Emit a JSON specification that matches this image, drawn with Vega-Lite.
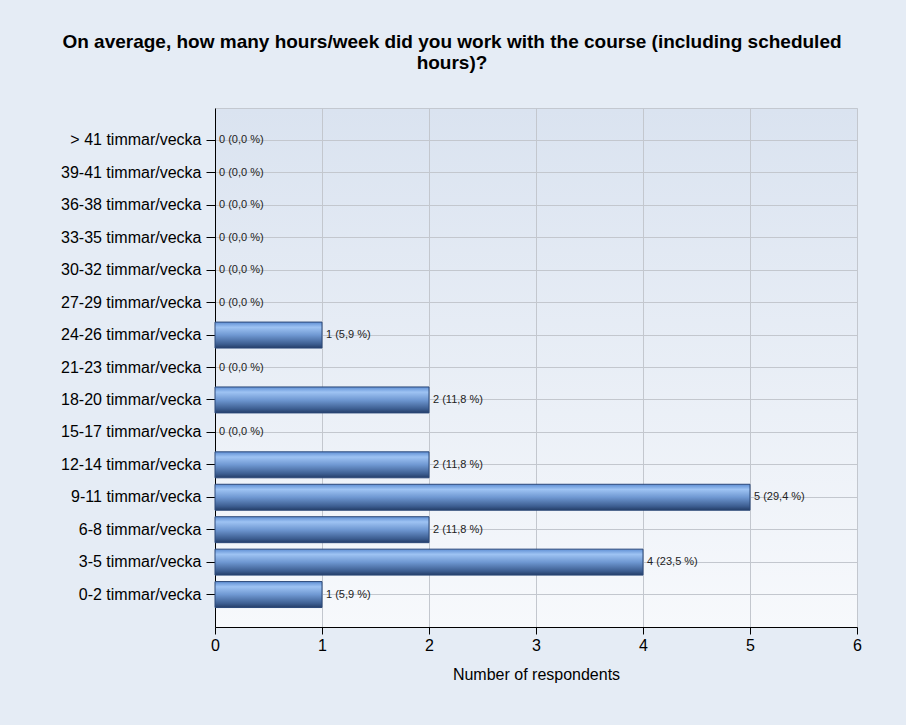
{
  "$schema": "https://vega.github.io/schema/vega-lite/v6.json",
  "width": 642,
  "height": 519,
  "autosize": {"type": "none"},
  "padding": {"left": 215, "top": 108, "right": 49, "bottom": 98},
  "background": "#e5ecf5",
  "title": {
    "text": ["On average, how many hours/week did you work with the course (including scheduled", "hours)?"],
    "font": "Liberation Sans",
    "fontSize": 19,
    "fontWeight": "bold",
    "color": "#000000",
    "anchor": "middle",
    "frame": "group",
    "dx": -84,
    "lineHeight": 21,
    "offset": 35
  },
  "config": {
    "view": {
      "stroke": "#c3c8d0",
      "fill": {
        "gradient": "linear",
        "x1": 0, "y1": 0, "x2": 0, "y2": 1,
        "stops": [
          {"offset": 0, "color": "#dae3f0"},
          {"offset": 1, "color": "#f7f9fc"}
        ]
      }
    },
    "axis": {
      "labelFont": "Liberation Sans",
      "titleFont": "Liberation Sans",
      "labelColor": "#000000",
      "titleColor": "#000000",
      "domainColor": "#000000",
      "tickColor": "#000000",
      "gridColor": "#c3c7ce",
      "gridWidth": 1
    }
  },
  "data": {
    "values": [
      {"category": "> 41 timmar/vecka", "count": 0, "label": "0 (0,0 %)"},
      {"category": "39-41 timmar/vecka", "count": 0, "label": "0 (0,0 %)"},
      {"category": "36-38 timmar/vecka", "count": 0, "label": "0 (0,0 %)"},
      {"category": "33-35 timmar/vecka", "count": 0, "label": "0 (0,0 %)"},
      {"category": "30-32 timmar/vecka", "count": 0, "label": "0 (0,0 %)"},
      {"category": "27-29 timmar/vecka", "count": 0, "label": "0 (0,0 %)"},
      {"category": "24-26 timmar/vecka", "count": 1, "label": "1 (5,9 %)"},
      {"category": "21-23 timmar/vecka", "count": 0, "label": "0 (0,0 %)"},
      {"category": "18-20 timmar/vecka", "count": 2, "label": "2 (11,8 %)"},
      {"category": "15-17 timmar/vecka", "count": 0, "label": "0 (0,0 %)"},
      {"category": "12-14 timmar/vecka", "count": 2, "label": "2 (11,8 %)"},
      {"category": "9-11 timmar/vecka", "count": 5, "label": "5 (29,4 %)"},
      {"category": "6-8 timmar/vecka", "count": 2, "label": "2 (11,8 %)"},
      {"category": "3-5 timmar/vecka", "count": 4, "label": "4 (23,5 %)"},
      {"category": "0-2 timmar/vecka", "count": 1, "label": "1 (5,9 %)"}
    ]
  },
  "encoding": {
    "y": {
      "field": "category",
      "type": "nominal",
      "sort": null,
      "scale": {"paddingInner": 0.2, "paddingOuter": 0.6},
      "axis": {
        "title": null,
        "labelFontSize": 16,
        "labelPadding": 5,
        "tickSize": 9,
        "grid": true,
        "bandPosition": 0.5,
        "domainWidth": 1
      }
    }
  },
  "layer": [
    {
      "mark": {
        "type": "bar",
        "stroke": "#2b4878",
        "strokeWidth": 1,
        "color": {
          "gradient": "linear",
          "x1": 0, "y1": 0, "x2": 0, "y2": 1,
          "stops": [
            {"offset": 0, "color": "#5f8fd4"},
            {"offset": 0.2, "color": "#9ec3f3"},
            {"offset": 0.5, "color": "#6f98d2"},
            {"offset": 0.85, "color": "#3c5d90"},
            {"offset": 1, "color": "#243d68"}
          ]
        }
      },
      "encoding": {
        "x": {
          "field": "count",
          "type": "quantitative",
          "scale": {"domain": [0, 6]},
          "axis": {
            "title": "Number of respondents",
            "titleFontSize": 16,
            "titleFontWeight": "normal",
            "titlePadding": 13,
            "labelFontSize": 16,
            "labelFlush": false,
            "tickCount": 6,
            "tickSize": 7,
            "labelPadding": 3,
            "grid": true
          }
        },
        "strokeOpacity": {
          "condition": {"test": "datum.count == 0", "value": 0},
          "value": 1
        }
      }
    },
    {
      "mark": {
        "type": "text",
        "align": "left",
        "baseline": "middle",
        "dx": 4,
        "font": "Liberation Sans",
        "fontSize": 11,
        "color": "#222222"
      },
      "encoding": {
        "x": {"field": "count", "type": "quantitative"},
        "text": {"field": "label"}
      }
    }
  ]
}
